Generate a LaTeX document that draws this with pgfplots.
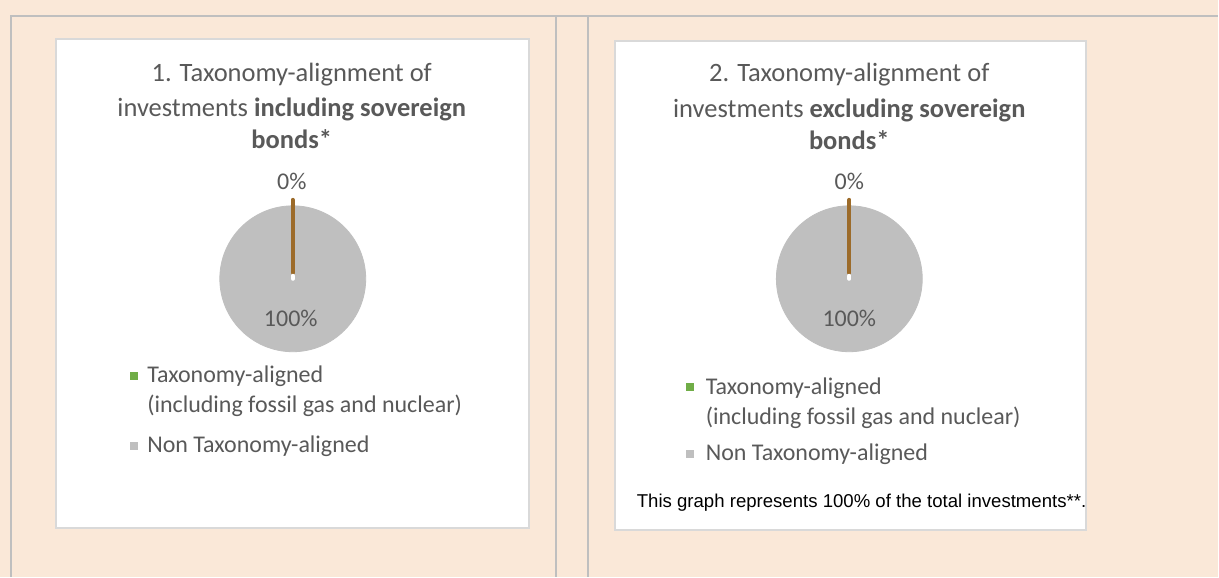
\documentclass[border=0pt]{standalone}
\usepackage{pgfplots}
\pgfplotsset{compat=1.18}
\usepackage{fontspec}
\setmainfont{Carlito}
\newfontfamily\arialfont{Liberation Sans}

\definecolor{bgpeach}{HTML}{FAE8D8}
\definecolor{rulegray}{HTML}{BFBFBF}
\definecolor{boxgray}{HTML}{D9D9D9}
\definecolor{txtgray}{HTML}{595959}
\definecolor{piegray}{HTML}{BFBFBF}
\definecolor{piebrown}{HTML}{9C6B2A}
\definecolor{aligngreen}{HTML}{70AD47}

\newcommand{\titlefont}{\fontsize{13.25}{16}\selectfont}
\newcommand{\legfont}{\fontsize{12}{14}\selectfont}

\begin{document}
\begin{tikzpicture}
% one axis in pixel units of the reference (y downwards)
\begin{axis}[
    width=609.5pt, height=288.5pt, scale only axis,
    xmin=0, xmax=1219, ymin=0, ymax=577, y dir=reverse,
    axis lines=none, ticks=none, clip=false, clip mode=individual,
]
% page background, frame rules and the two white panels
\fill[bgpeach] (0,0) rectangle (1219,577);
\draw[rulegray, line width=1pt] (11,577) -- (11,16) -- (1219,16);
\draw[rulegray, line width=1pt] (556,16) -- (556,577);
\draw[rulegray, line width=1pt] (588,16) -- (588,577);
\filldraw[fill=white, draw=boxgray, line width=1pt] (56,39) rectangle (529,528);
\filldraw[fill=white, draw=boxgray, line width=1pt] (615,41) rectangle (1087,530);

% pie 1: Non Taxonomy-aligned 100%, Taxonomy-aligned 0%
\addplot[piegray, draw=none, only marks, mark=*, mark size=36.5pt,
    mark options={fill=piegray, draw=none}]
    coordinates {(293,279)};
\addplot[piebrown, line width=2pt, line cap=round] coordinates {(293,200) (293,273)};
\addplot[white, line width=2pt, line cap=round] coordinates {(293,276) (293,279)};

% pie 2
\addplot[piegray, draw=none, only marks, mark=*, mark size=36.5pt,
    mark options={fill=piegray, draw=none}]
    coordinates {(850,279)};
\addplot[piebrown, line width=2pt, line cap=round] coordinates {(850,200) (850,273)};
\addplot[white, line width=2pt, line cap=round] coordinates {(850,276) (850,279)};

% titles
\begin{scope}[every node/.style={anchor=base, inner sep=0, text=txtgray, font=\titlefont}]
\node at (292,82) {1. Taxonomy-alignment of};
\node at (292,117) {investments \textbf{including sovereign}};
\node at (292,149) {\textbf{bonds*}};
\node at (850,82) {2. Taxonomy-alignment of};
\node at (850,118) {investments \textbf{excluding sovereign}};
\node at (850,150) {\textbf{bonds*}};
\end{scope}

% data labels
\begin{scope}[every node/.style={anchor=base, inner sep=0, text=txtgray, font=\legfont}]
\node at (292,190) {0\%};
\node at (291,327) {100\%};
\node at (850,190) {0\%};
\node at (850,327) {100\%};
\end{scope}

% legends
\fill[aligngreen] (130,372) rectangle (138,380);
\fill[piegray] (130,442) rectangle (138,450);
\fill[aligngreen] (687,383) rectangle (695,391);
\fill[piegray] (687,450) rectangle (695,458);
\begin{scope}[every node/.style={anchor=base west, inner sep=0, text=txtgray, font=\legfont}]
\node at (147,383) {Taxonomy-aligned};
\node at (147,413) {(including fossil gas and nuclear)};
\node at (147,453) {Non Taxonomy-aligned};
\node at (706,395) {Taxonomy-aligned};
\node at (706,425) {(including fossil gas and nuclear)};
\node at (706,461) {Non Taxonomy-aligned};
\end{scope}

% footnote in panel 2
\node[anchor=base west, inner sep=0, font=\arialfont\fontsize{9.3}{11}\selectfont]
    at (637,508) {This graph represents 100\% of the total investments**.};
\end{axis}
\end{tikzpicture}
\end{document}
